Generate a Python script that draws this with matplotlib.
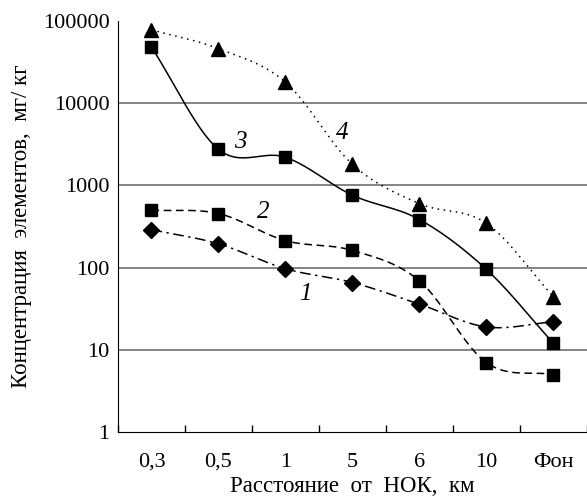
import matplotlib
matplotlib.use("Agg")
import matplotlib.pyplot as plt
import numpy as np

plt.rcParams['font.family'] = ['Liberation Serif', 'DejaVu Serif']

# Данные
categories = ['0,3', '0,5', '1', '5', '6', '10', 'Фон']
s1 = [290, 195, 97, 66, 36, 19, 22]          # ромбы, штрихпунктир
s2 = [500, 455, 213, 162, 69, 7, 5]          # квадраты, штрих
s3 = [48000, 2750, 2200, 760, 385, 95, 12]   # квадраты, сплошная
s4 = [78000, 46000, 18000, 1800, 600, 345, 44]  # треугольники, пунктир


def smooth(y, n=30):
    # сглаживание как в Excel (Catmull-Rom) в логарифмическом масштабе
    ly = np.log10(y)
    x = np.arange(len(y), dtype=float)
    px = np.concatenate([[2 * x[0] - x[1]], x, [2 * x[-1] - x[-2]]])
    py = np.concatenate([[2 * ly[0] - ly[1]], ly, [2 * ly[-1] - ly[-2]]])
    xs, ys = [], []
    t = np.linspace(0, 1, n)
    for i in range(1, len(px) - 2):
        for arr, out in ((px, xs), (py, ys)):
            p0, p1, p2, p3 = arr[i - 1], arr[i], arr[i + 1], arr[i + 2]
            out.extend(0.5 * (2 * p1 + (-p0 + p2) * t
                              + (2 * p0 - 5 * p1 + 4 * p2 - p3) * t ** 2
                              + (-p0 + 3 * p1 - 3 * p2 + p3) * t ** 3))
    return np.array(xs), 10 ** np.array(ys)


fig = plt.figure(figsize=(5.87, 4.99), dpi=100)
ax = fig.add_axes([0.201, 0.134, 0.799, 0.824])

x = np.arange(len(categories))
styles = [
    (s1, (0, (7, 3, 1.5, 3)), 'D', 8),
    (s2, (0, (5, 3)), 's', 9),
    (s3, '-', 's', 9),
    (s4, (0, (1, 3)), '^', 9.5),
]
for vals, ls, mk, ms in styles:
    sx, sy = smooth(vals)
    ax.plot(sx, sy, color='black', lw=1.1, linestyle=ls, zorder=3)
    ax.plot(x, vals, linestyle='none', marker=mk, markersize=ms,
            color='black', zorder=4)

ax.set_yscale('log')
ax.set_ylim(1, 100000)
ax.set_xlim(-0.5, len(categories) - 0.5)
ax.set_yticks([1, 10, 100, 1000, 10000, 100000])
ax.set_yticklabels(['1', '10', '100', '1000', '10000', '100000'])
ax.minorticks_off()
for v in [10, 100, 1000, 10000]:
    ax.axhline(v, color='#6e6e6e', lw=1.2, zorder=1)

ax.set_xticks(x)
ax.set_xticklabels(categories)
ax.set_xticks(np.arange(-0.5, len(categories), 1.0), minor=True)
ax.tick_params(axis='x', which='major', length=0, pad=15, labelsize=16)
ax.tick_params(axis='x', which='minor', length=5, direction='in', width=1)
ax.tick_params(axis='y', length=0, pad=6, labelsize=16)

ax.spines['top'].set_visible(False)
ax.spines['right'].set_visible(False)

ax.set_xlabel('Расстояние  от  НОК,  км', fontsize=16.5, labelpad=3)
ax.set_ylabel('Концентрация  элементов,  мг/ кг', fontsize=16.5, labelpad=8)

# номера кривых
for txt, xx, yy in [('1', 2.3, 48), ('2', 1.67, 480), ('3', 1.33, 3350), ('4', 2.85, 4300)]:
    ax.text(xx, yy, txt, fontsize=18, style='italic', ha='center', va='center')

fig.savefig('out.png', dpi=100)
